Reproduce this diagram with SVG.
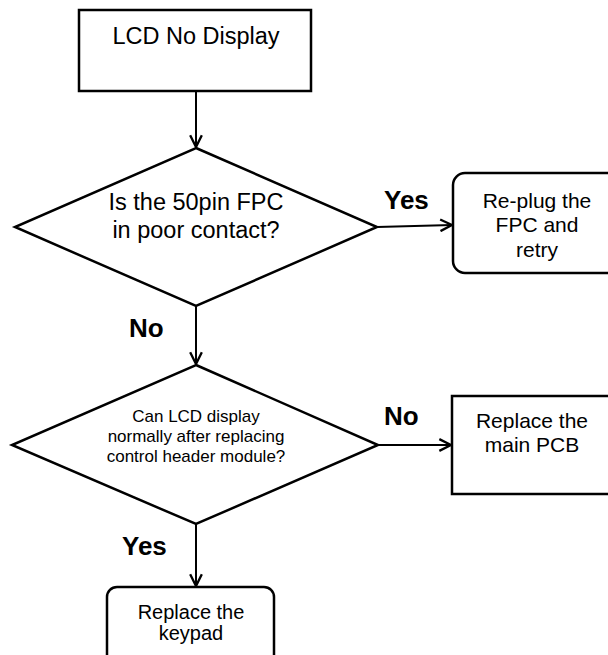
<svg xmlns="http://www.w3.org/2000/svg" width="608" height="655" viewBox="0 0 608 655">
  <style>
    .shape { fill: #ffffff; stroke: #000000; stroke-width: 2.5; }
    .txt { font-family: "Liberation Sans", Arial, sans-serif; fill: #000000; text-anchor: middle; }
    .lbl { font-family: "Liberation Sans", Arial, sans-serif; font-weight: bold; font-size: 26px; fill: #000000; }
    .conn { fill: none; stroke: #000000; stroke-width: 2; marker-end: url(#arrow); }
  </style>
  <defs>
    <marker id="arrow" markerUnits="userSpaceOnUse" markerWidth="14" markerHeight="14" viewBox="0 0 12 12" refX="11" refY="6" orient="auto">
      <path d="M1,1 L11,6 L1,11" fill="none" stroke="#000000" stroke-width="2"/>
    </marker>
  </defs>
  <rect width="608" height="655" fill="#ffffff"/>

  <g id="connectors">
    <line class="conn" x1="196" y1="91" x2="196" y2="147"/>
    <line class="conn" x1="196" y1="306" x2="196" y2="364"/>
    <line class="conn" x1="377" y1="227" x2="452" y2="225"/>
    <line class="conn" x1="378" y1="445" x2="451" y2="445"/>
    <line class="conn" x1="196" y1="524" x2="196" y2="586"/>
    <text class="lbl" x="384" y="209">Yes</text>
    <text class="lbl" x="129" y="337">No</text>
    <text class="lbl" x="384" y="425">No</text>
    <text class="lbl" x="122" y="555">Yes</text>
  </g>

  <g id="start">
    <rect class="shape" x="79" y="10" width="232" height="81"/>
    <text class="txt" x="196" y="44" font-size="23.5">LCD No Display</text>
  </g>

  <g id="decision1">
    <polygon class="shape" points="196,148 377,227 196,306 15,227"/>
    <text class="txt" x="196" y="210" font-size="23.5">Is the 50pin FPC</text>
    <text class="txt" x="196" y="238" font-size="23.5">in poor contact?</text>
  </g>

  <g id="replug">
    <rect class="shape" x="453" y="173" width="172" height="100" rx="12" ry="12"/>
    <text class="txt" x="537" y="208" font-size="21">Re-plug the</text>
    <text class="txt" x="537" y="232" font-size="21">FPC and</text>
    <text class="txt" x="537" y="257" font-size="21">retry</text>
  </g>

  <g id="decision2">
    <polygon class="shape" points="196,365 378,445 196,524 12,445"/>
    <text class="txt" x="196" y="422" font-size="17">Can LCD display</text>
    <text class="txt" x="196" y="442" font-size="17">normally after replacing</text>
    <text class="txt" x="196" y="462" font-size="17">control header module?</text>
  </g>

  <g id="mainpcb">
    <rect class="shape" x="452" y="396" width="172" height="98"/>
    <text class="txt" x="532" y="428" font-size="21">Replace the</text>
    <text class="txt" x="532" y="452" font-size="21">main PCB</text>
  </g>

  <g id="keypad">
    <rect class="shape" x="107" y="587" width="167" height="80" rx="10" ry="10"/>
    <text class="txt" x="191" y="619" font-size="20">Replace the</text>
    <text class="txt" x="191" y="640" font-size="20">keypad</text>
  </g>
</svg>
